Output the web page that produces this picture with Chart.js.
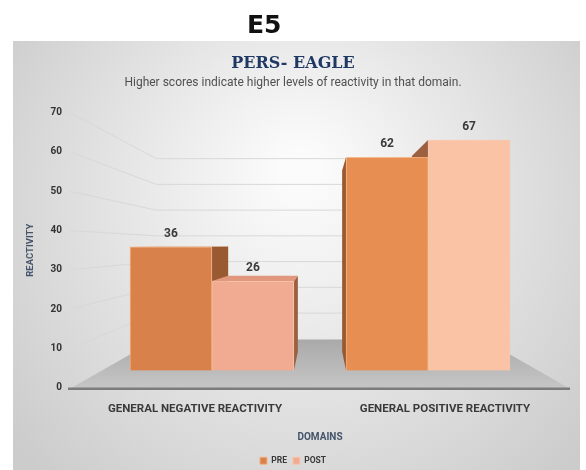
<!DOCTYPE html>
<html>
<head>
<meta charset="utf-8">
<title>PERS-EAGLE</title>
<script src="https://cdn.jsdelivr.net/npm/chart.js@4.4.1/dist/chart.umd.min.js"></script>
<style>
  html, body { margin: 0; padding: 0; background: #fff; }
  #wrap { position: relative; width: 586px; height: 470px; }
  #wrap canvas { position: absolute; left: 0; top: 0; }
  #wrap h1 {
    position: absolute; left: 247px; top: 10px; margin: 0;
    font: bold 25px "DejaVu Sans", sans-serif; color: #111;
  }
</style>
</head>
<body>
<div id="wrap">
  <canvas id="domainsChart" width="586" height="470"></canvas>
  <h1>E5</h1>
</div>
<script>
// scores per domain
const domains = ['GENERAL NEGATIVE REACTIVITY', 'GENERAL POSITIVE REACTIVITY'];
const preScores = [36, 62];
const postScores = [26, 67];
const reactivityTicks = [0, 10, 20, 30, 40, 50, 60, 70];

const labelFont = '"Liberation Sans Narrow", Roboto, sans-serif';

// grey card behind the chart
const panelBackground = {
    id: 'panelBackground',
    beforeDraw(chart) {
        const ctx = chart.ctx;
        ctx.save();
        ctx.fillStyle = '#fff';
        ctx.fillRect(0, 0, chart.width, chart.height);
        const g = ctx.createRadialGradient(300, 170, 20, 300, 220, 360);
        g.addColorStop(0, '#fbfbfb');
        g.addColorStop(1, '#cccccc');
        ctx.fillStyle = g;
        ctx.fillRect(13, 41, 567, 429);
        ctx.restore();
    }
};

// fake 3d: walls, floor and bar sides pulled toward a vanishing point
const bar3d = {
    id: 'bar3d',
    beforeDatasetsDraw(chart) {
        const { ctx, chartArea: a, scales } = chart;
        const vx = (a.left + a.right) / 2;
        const vy = a.top + a.height * 0.485;
        const back = (x, y, k) => [vx + (x - vx) * k, vy + (y - vy) * k];
        const kw = 0.655; // walls
        const kb = 0.85;  // bars
        const yScale = scales.y;

        ctx.save();
        ctx.strokeStyle = '#d8d8d8';
        ctx.lineWidth = 1;
        yScale.ticks.forEach(t => {
            if (t.value === 0) return;
            const py = yScale.getPixelForValue(t.value);
            const [bx, by] = back(a.left, py, kw);
            const [rx] = back(a.right, py, kw);
            ctx.beginPath();
            ctx.moveTo(a.left, py);
            ctx.lineTo(bx, by);
            ctx.lineTo(rx, by);
            ctx.stroke();
        });

        // floor
        const fy = yScale.getPixelForValue(0) + 1;
        const [blx, bly] = back(a.left, fy, kw);
        const [brx] = back(a.right, fy, kw);
        const fg = ctx.createLinearGradient(0, bly, 0, fy);
        fg.addColorStop(0, '#a9a9a9');
        fg.addColorStop(1, '#c6c6c6');
        ctx.fillStyle = fg;
        ctx.beginPath();
        ctx.moveTo(a.left, fy);
        ctx.lineTo(a.right, fy);
        ctx.lineTo(brx, bly);
        ctx.lineTo(blx, bly);
        ctx.closePath();
        ctx.fill();
        ctx.strokeStyle = '#7c7c7c';
        ctx.lineWidth = 2.5;
        ctx.beginPath();
        ctx.moveTo(a.left - 2, fy);
        ctx.lineTo(a.right, fy);
        ctx.stroke();

        // side and top faces, farthest from the centre first
        const boxes = [];
        chart.data.datasets.forEach((ds, i) => {
            chart.getDatasetMeta(i).data.forEach(bar => {
                boxes.push({
                    l: bar.x - bar.width / 2, r: bar.x + bar.width / 2,
                    t: bar.y, b: bar.base, cx: bar.x,
                    side: ds.sideColor, top: ds.topColor
                });
            });
        });
        boxes.sort((p, q) => Math.abs(q.cx - vx) - Math.abs(p.cx - vx));

        const face = (pts, color) => {
            ctx.fillStyle = color;
            ctx.beginPath();
            pts.forEach(([x, y], i) => i ? ctx.lineTo(x, y) : ctx.moveTo(x, y));
            ctx.closePath();
            ctx.fill();
        };
        boxes.forEach(bx => {
            const ex = bx.r < vx ? bx.r : (bx.l > vx ? bx.l : null);
            if (ex !== null) {
                face([[ex, bx.t], [ex, bx.b], back(ex, bx.b, kb), back(ex, bx.t, kb)], bx.side);
            }
            if (bx.t > vy) {
                face([[bx.l, bx.t], [bx.r, bx.t], back(bx.r, bx.t, kb), back(bx.l, bx.t, kb)], bx.top);
            }
        });
        ctx.restore();
    },
    afterDatasetsDraw(chart) {
        const ctx = chart.ctx;
        ctx.save();
        ctx.font = 'bold 12px ' + labelFont;
        ctx.fillStyle = '#3a3a3a';
        ctx.textAlign = 'center';
        ctx.textBaseline = 'middle';
        chart.data.datasets.forEach((ds, i) => {
            chart.getDatasetMeta(i).data.forEach((bar, j) => {
                ctx.fillText(ds.data[j].y, bar.x, bar.y - 13);
            });
        });
        ctx.restore();
    }
};

new Chart(document.getElementById('domainsChart'), {
    type: 'bar',
    data: {
        labels: domains,
        datasets: [{
            label: 'PRE',
            data: preScores.map((v, i) => ({ x: i, y: v })),
            backgroundColor: ['#d9814a', '#e78f53'],
            borderColor: 'rgba(246, 178, 130, 0.9)',
            borderWidth: 1,
            sideColor: '#9a5a31',
            topColor: '#c06c3a',
            xAxisID: 'xBar',
            yAxisID: 'yBar'
        }, {
            label: 'POST',
            data: postScores.map((v, i) => ({ x: i, y: v })),
            backgroundColor: ['#f1ab93', '#fbc3a6'],
            borderColor: 'rgba(248, 200, 170, 0.9)',
            borderWidth: 1,
            sideColor: '#9c6040',
            topColor: '#e0977d',
            xAxisID: 'xBar',
            yAxisID: 'yBar'
        }]
    },
    options: {
        responsive: false,
        animation: false,
        barThickness: 82,
        layout: { padding: { left: 16, right: 16, top: 44, bottom: -5 } },
        scales: {
            x: {
                type: 'category',
                labels: domains,
                offset: true,
                grid: { display: false, drawTicks: false },
                border: { display: false },
                ticks: { color: '#3a3a3a', font: { family: labelFont, size: 11.5, weight: 'bold' }, padding: 15 },
                title: {
                    display: true, text: 'DOMAINS', color: '#44546a',
                    font: { family: labelFont, size: 10, weight: 'bold' },
                    padding: { top: 0, bottom: 7 }
                }
            },
            xBar: { type: 'linear', display: false, offset: false, min: -0.657, max: 1.657 },
            y: {
                min: reactivityTicks[0],
                max: reactivityTicks[reactivityTicks.length - 1],
                grid: { display: false, drawTicks: false },
                border: { display: false },
                ticks: {
                    stepSize: reactivityTicks[1] - reactivityTicks[0],
                    color: '#333', padding: 8,
                    font: { family: labelFont, size: 10, weight: 'bold' }
                },
                title: {
                    display: true, text: 'REACTIVITY', color: '#44546a',
                    font: { family: labelFont, size: 9.5, weight: 'bold' },
                    padding: { top: 9, bottom: 0 }
                },
                afterFit(scale) { scale.width = 54; }
            },
            yBar: { type: 'linear', display: false, min: -5, max: 75 }
        },
        plugins: {
            title: {
                display: true, text: 'PERS- EAGLE', color: '#1f3864',
                font: { family: '"DejaVu Serif", serif', size: 16, weight: 'bold' },
                padding: { top: 10, bottom: 3 }
            },
            subtitle: {
                display: true,
                text: 'Higher scores indicate higher levels of reactivity in that domain.',
                color: '#505050',
                font: { family: labelFont, size: 12 },
                padding: { top: 0, bottom: 22 }
            },
            legend: {
                position: 'bottom',
                labels: {
                    boxWidth: 7, boxHeight: 7, padding: 6, color: '#3a3a3a',
                    font: { family: labelFont, size: 8.5, weight: 'bold' }
                }
            },
            tooltip: { enabled: false }
        }
    },
    plugins: [panelBackground, bar3d]
});
</script>
</body>
</html>
